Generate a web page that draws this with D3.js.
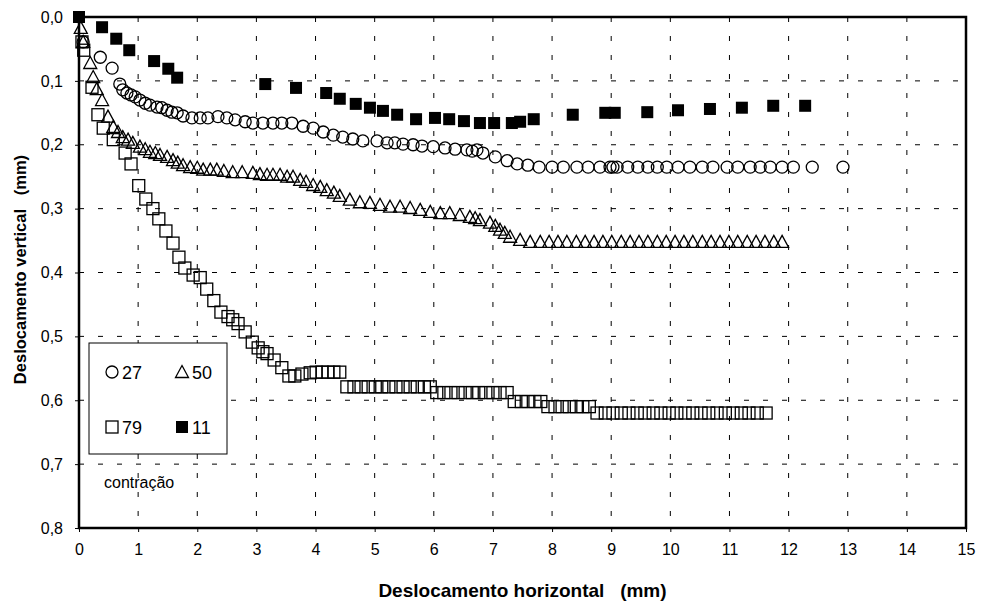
<!DOCTYPE html>
<html>
<head>
<meta charset="utf-8">
<script src="https://cdn.jsdelivr.net/npm/d3@7"></script>
<style>
  body { margin: 0; background: #fff; }
  text { font-family: "Liberation Sans", Arial, sans-serif; fill: #000; }
</style>
</head>
<body>
<div id="vis"></div>
<script>
// tick labels
const xTicks = [0, 1, 2, 3, 4, 5, 6, 7, 8, 9, 10, 11, 12, 13, 14, 15];
const yTicks = [0, 0.1, 0.2, 0.3, 0.4, 0.5, 0.6, 0.7, 0.8];
const seriesNames = ["27", "50", "79", "11"];

// series 27 (circles)
const s27x = [0.07, 0.36, 0.56, 0.69, 0.74, 0.81, 0.88, 0.95, 1.03, 1.12, 1.20, 1.32, 1.40, 1.49, 1.57, 1.66, 1.76, 1.91, 2.05, 2.18, 2.35, 2.50, 2.64, 2.81, 2.94, 3.11, 3.28, 3.43, 3.60, 3.79, 3.96, 4.13, 4.30, 4.46, 4.63, 4.80, 5.04, 5.21, 5.34, 5.48, 5.65, 5.80, 5.99, 6.19, 6.36, 6.56, 6.65, 6.73, 6.83, 7.04, 7.24, 7.41, 7.59, 7.78, 8.00, 8.19, 8.42, 8.61, 8.81, 8.98, 9.03, 9.10, 9.28, 9.45, 9.62, 9.78, 9.94, 10.13, 10.33, 10.54, 10.72, 10.96, 11.14, 11.35, 11.52, 11.69, 11.89, 12.08, 12.40, 12.92];
const s27y = [0.039, 0.063, 0.080, 0.105, 0.114, 0.119, 0.122, 0.125, 0.130, 0.135, 0.138, 0.141, 0.142, 0.146, 0.149, 0.150, 0.155, 0.158, 0.158, 0.158, 0.156, 0.158, 0.161, 0.164, 0.166, 0.166, 0.166, 0.166, 0.166, 0.171, 0.174, 0.180, 0.185, 0.188, 0.191, 0.194, 0.194, 0.197, 0.197, 0.199, 0.200, 0.202, 0.203, 0.205, 0.207, 0.208, 0.210, 0.208, 0.213, 0.219, 0.225, 0.230, 0.232, 0.235, 0.235, 0.235, 0.235, 0.235, 0.235, 0.235, 0.235, 0.235, 0.235, 0.235, 0.235, 0.235, 0.235, 0.235, 0.235, 0.235, 0.235, 0.235, 0.235, 0.235, 0.235, 0.235, 0.235, 0.235, 0.235, 0.235];

// series 50 (triangles)
const s50x = [0.03, 0.07, 0.19, 0.24, 0.30, 0.39, 0.49, 0.58, 0.66, 0.74, 0.83, 0.91, 1.03, 1.12, 1.20, 1.29, 1.37, 1.49, 1.59, 1.67, 1.76, 1.88, 2.00, 2.10, 2.22, 2.33, 2.45, 2.60, 2.76, 2.94, 3.06, 3.18, 3.28, 3.40, 3.52, 3.62, 3.74, 3.84, 3.96, 4.08, 4.19, 4.31, 4.41, 4.58, 4.75, 4.92, 5.09, 5.26, 5.43, 5.60, 5.77, 5.94, 6.11, 6.27, 6.44, 6.61, 6.70, 6.78, 6.95, 7.04, 7.12, 7.20, 7.29, 7.46, 7.63, 7.80, 7.95, 8.10, 8.25, 8.41, 8.56, 8.71, 8.86, 9.01, 9.17, 9.32, 9.47, 9.62, 9.78, 9.93, 10.08, 10.23, 10.38, 10.54, 10.69, 10.84, 10.99, 11.14, 11.30, 11.45, 11.60, 11.75, 11.89];
const s50y = [0.017, 0.039, 0.072, 0.094, 0.113, 0.130, 0.156, 0.172, 0.180, 0.188, 0.192, 0.197, 0.203, 0.207, 0.211, 0.213, 0.216, 0.219, 0.224, 0.228, 0.232, 0.235, 0.236, 0.239, 0.239, 0.239, 0.241, 0.243, 0.243, 0.244, 0.246, 0.247, 0.247, 0.247, 0.250, 0.250, 0.255, 0.258, 0.263, 0.266, 0.271, 0.275, 0.280, 0.286, 0.290, 0.291, 0.294, 0.297, 0.297, 0.299, 0.302, 0.305, 0.307, 0.307, 0.310, 0.313, 0.315, 0.318, 0.322, 0.327, 0.333, 0.338, 0.344, 0.349, 0.352, 0.352, 0.352, 0.352, 0.352, 0.352, 0.352, 0.352, 0.352, 0.352, 0.352, 0.352, 0.352, 0.352, 0.352, 0.352, 0.352, 0.352, 0.352, 0.352, 0.352, 0.352, 0.352, 0.352, 0.352, 0.352, 0.352, 0.352, 0.352];

// series 79 (open squares)
const s79x = [0.05, 0.08, 0.22, 0.32, 0.41, 0.58, 0.78, 0.88, 1.01, 1.13, 1.25, 1.35, 1.47, 1.59, 1.69, 1.79, 1.93, 2.05, 2.16, 2.28, 2.40, 2.52, 2.60, 2.69, 2.81, 2.93, 3.03, 3.11, 3.18, 3.30, 3.43, 3.55, 3.65, 3.77, 3.91, 4.01, 4.11, 4.21, 4.31, 4.41, 4.53, 4.65, 4.77, 4.89, 5.01, 5.12, 5.24, 5.36, 5.48, 5.60, 5.72, 5.84, 5.94, 6.05, 6.17, 6.29, 6.41, 6.53, 6.65, 6.76, 6.88, 7.00, 7.12, 7.24, 7.36, 7.48, 7.59, 7.71, 7.81, 7.93, 8.05, 8.17, 8.29, 8.41, 8.52, 8.63, 8.76, 8.90, 9.03, 9.17, 9.30, 9.44, 9.57, 9.71, 9.84, 9.98, 10.11, 10.25, 10.38, 10.52, 10.65, 10.79, 10.93, 11.06, 11.20, 11.33, 11.47, 11.62];
const s79y = [0.039, 0.052, 0.110, 0.153, 0.174, 0.192, 0.213, 0.230, 0.264, 0.285, 0.300, 0.316, 0.335, 0.354, 0.376, 0.393, 0.404, 0.408, 0.426, 0.444, 0.462, 0.469, 0.474, 0.480, 0.493, 0.509, 0.518, 0.524, 0.527, 0.537, 0.549, 0.562, 0.562, 0.559, 0.557, 0.556, 0.556, 0.556, 0.556, 0.556, 0.579, 0.579, 0.579, 0.579, 0.579, 0.579, 0.579, 0.579, 0.579, 0.579, 0.579, 0.579, 0.579, 0.588, 0.588, 0.588, 0.588, 0.588, 0.588, 0.588, 0.588, 0.588, 0.588, 0.588, 0.602, 0.602, 0.602, 0.602, 0.602, 0.610, 0.610, 0.610, 0.610, 0.610, 0.610, 0.610, 0.620, 0.620, 0.620, 0.620, 0.620, 0.620, 0.620, 0.620, 0.620, 0.620, 0.620, 0.620, 0.620, 0.620, 0.620, 0.620, 0.620, 0.620, 0.620, 0.620, 0.620, 0.620];

// series 11 (filled squares)
const s11x = [0.00, 0.39, 0.63, 0.85, 1.27, 1.51, 1.66, 3.15, 3.67, 4.18, 4.41, 4.68, 4.92, 5.14, 5.38, 5.70, 6.02, 6.26, 6.51, 6.78, 7.02, 7.32, 7.46, 7.69, 8.35, 8.90, 9.06, 9.61, 10.13, 10.67, 11.21, 11.74, 12.28];
const s11y = [0.000, 0.016, 0.034, 0.052, 0.069, 0.081, 0.095, 0.105, 0.111, 0.119, 0.128, 0.136, 0.142, 0.147, 0.153, 0.160, 0.158, 0.160, 0.163, 0.166, 0.166, 0.166, 0.164, 0.160, 0.153, 0.150, 0.150, 0.149, 0.146, 0.144, 0.142, 0.139, 0.139];

const width = 981;
const height = 608;
const margin = { top: 17, right: 15, bottom: 80, left: 79 };

const svg = d3.select("#vis")
  .append("svg")
  .attr("width", width)
  .attr("height", height);

const x = d3.scaleLinear().domain([0, 15]).range([margin.left, width - margin.right]);
const y = d3.scaleLinear().domain([0, 0.8]).range([margin.top, height - margin.bottom]);

const fmt = v => d3.format(".1f")(v).replace(".", ",");

// grid
svg.append("g")
  .selectAll("line")
  .data(xTicks.slice(1, -1))
  .enter()
  .append("line")
  .attr("x1", d => x(d)).attr("x2", d => x(d))
  .attr("y1", y(0)).attr("y2", y(0.8))
  .attr("stroke", "#000")
  .attr("stroke-width", 1)
  .attr("stroke-dasharray", "5,14");

svg.append("g")
  .selectAll("line")
  .data(yTicks.slice(1, -1))
  .enter()
  .append("line")
  .attr("y1", d => y(d)).attr("y2", d => y(d))
  .attr("x1", x(0)).attr("x2", x(15))
  .attr("stroke", "#000")
  .attr("stroke-width", 1)
  .attr("stroke-dasharray", "5,14");

// axes
const xAxis = svg.append("g")
  .attr("transform", `translate(0,${y(0.8)})`)
  .call(d3.axisBottom(x).tickValues(xTicks).tickFormat(d3.format("d")).tickSize(4).tickPadding(12));

const yAxis = svg.append("g")
  .attr("transform", `translate(${x(0)},0)`)
  .call(d3.axisLeft(y).tickValues(yTicks).tickFormat(fmt).tickSize(4).tickPadding(12));

[xAxis, yAxis].forEach(g => {
  g.select(".domain").remove();
  g.selectAll("line").attr("stroke", "#000");
  g.selectAll("text").attr("font-size", 16).attr("font-family", "Liberation Sans, Arial, sans-serif");
});

// plot frame
svg.append("rect")
  .attr("x", x(0)).attr("y", y(0))
  .attr("width", x(15) - x(0))
  .attr("height", y(0.8) - y(0))
  .attr("fill", "none")
  .attr("stroke", "#000")
  .attr("stroke-width", 2.5);

// markers
const shapes = {
  "27": g => g.append("circle").attr("r", 6),
  "50": g => g.append("path").attr("d", "M0,-6.5L6.5,5.5L-6.5,5.5Z"),
  "79": g => g.append("rect").attr("x", -6).attr("y", -6).attr("width", 12).attr("height", 12),
  "11": g => g.append("rect").attr("x", -6).attr("y", -6).attr("width", 12).attr("height", 12)
};

function drawMarker(sel, name) {
  sel.each(function () {
    const m = shapes[name](d3.select(this));
    if (name === "11") {
      m.attr("fill", "#000").attr("stroke", "none");
    } else {
      m.attr("fill", "none").attr("stroke", "#000").attr("stroke-width", 1.3);
    }
  });
}

const seriesData = {
  "27": s27x.map((v, i) => [v, s27y[i]]),
  "50": s50x.map((v, i) => [v, s50y[i]]),
  "79": s79x.map((v, i) => [v, s79y[i]]),
  "11": s11x.map((v, i) => [v, s11y[i]])
};

seriesNames.forEach(name => {
  const pts = svg.append("g")
    .selectAll("g")
    .data(seriesData[name])
    .enter()
    .append("g")
    .attr("transform", d => `translate(${x(d[0])},${y(d[1])})`);
  drawMarker(pts, name);
});

// legend
const legend = svg.append("g");
legend.append("rect")
  .attr("x", 89).attr("y", 343)
  .attr("width", 138).attr("height", 111)
  .attr("fill", "#fff")
  .attr("stroke", "#000")
  .attr("stroke-width", 1);

const legendPos = [[112, 372], [182, 372], [112, 427], [182, 427]];
seriesNames.forEach((name, i) => {
  const g = legend.append("g").attr("transform", `translate(${legendPos[i][0]},${legendPos[i][1]})`);
  drawMarker(g, name);
  g.append("text")
    .attr("x", 10).attr("y", 6.5)
    .attr("font-size", 18)
    .text(name);
});

svg.append("text")
  .attr("x", 104).attr("y", 488)
  .attr("font-size", 16)
  .text("contração");

// axis titles
svg.append("text")
  .attr("x", (x(0) + x(15)) / 2).attr("y", 597)
  .attr("text-anchor", "middle")
  .attr("font-size", 19)
  .attr("font-weight", "bold")
  .style("white-space", "pre")
  .text("Deslocamento horizontal   (mm)");

svg.append("text")
  .attr("transform", `translate(26,${(y(0) + y(0.8)) / 2 - 3}) rotate(-90)`)
  .attr("text-anchor", "middle")
  .attr("font-size", 16.5)
  .attr("font-weight", "bold")
  .style("white-space", "pre")
  .text("Deslocamento vertical   (mm)");
</script>
</body>
</html>
